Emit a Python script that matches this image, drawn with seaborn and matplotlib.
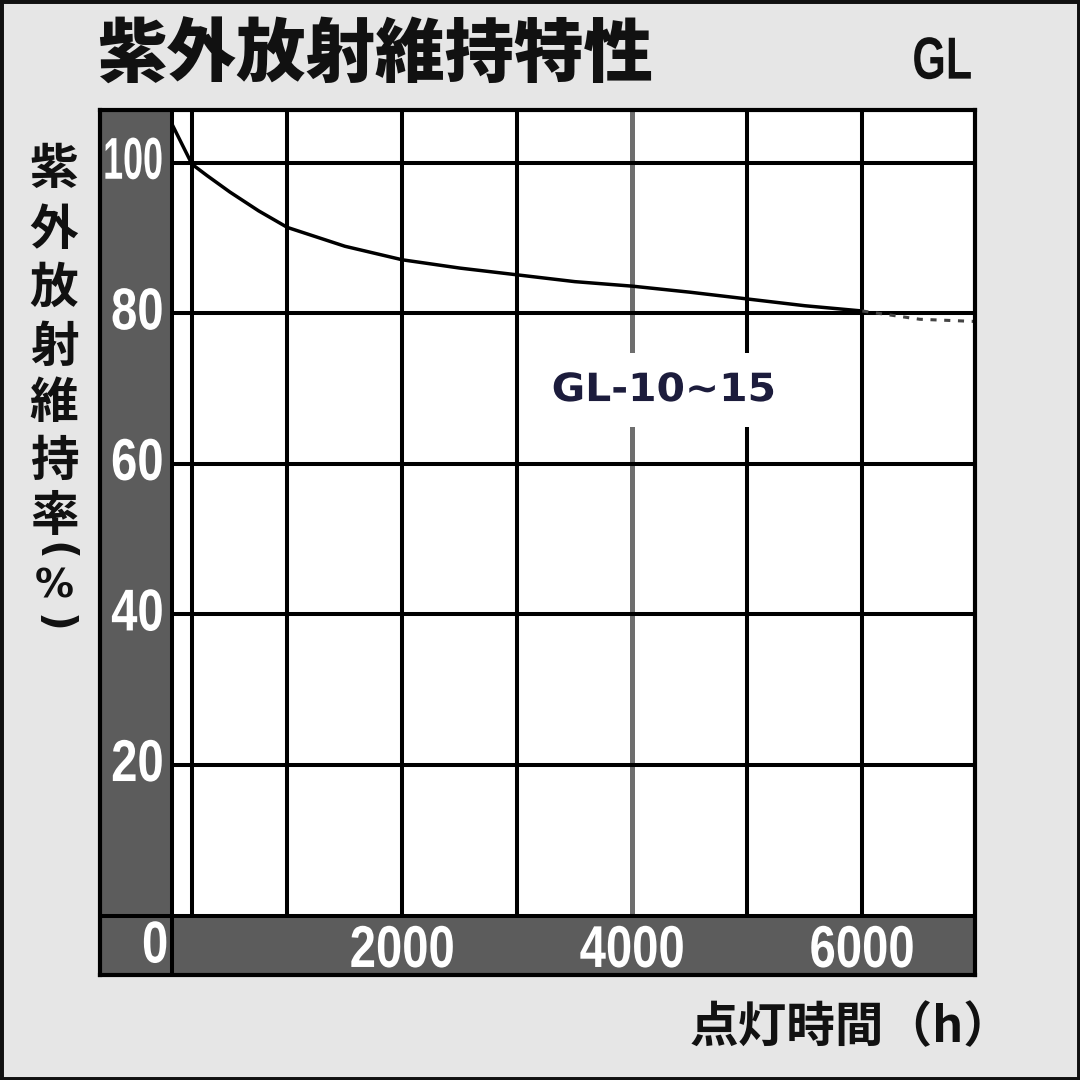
import matplotlib
matplotlib.use("Agg")
import matplotlib.pyplot as plt
from matplotlib import font_manager
from matplotlib.patches import Rectangle
from matplotlib.patheffects import AbstractPathEffect
from matplotlib.transforms import Affine2D
import seaborn as sns
import pandas as pd

# ---- data ----
hours_solid = [0, 170, 300, 500, 750, 1000, 1500, 2000, 2500, 3000, 3500, 4000, 4500, 5000, 5500, 6000]
ratio_solid = [105.0, 99.8, 98.3, 96.1, 93.6, 91.4, 88.9, 87.1, 86.0, 85.1, 84.2, 83.6, 82.8, 81.9, 81.0, 80.3]
hours_dash = [6000, 6500, 7000]
ratio_dash = [80.3, 79.2, 78.9]
x_grid = [170, 1000, 2000, 3000, 4000, 5000, 6000, 7000]
y_grid = [0, 20, 40, 60, 80, 100]
x_tick_labels = ["2000", "4000", "6000"]
x_tick_pos = [2000, 4000, 6000]
y_tick_labels = ["100", "80", "60", "40", "20"]
y_tick_pos = [100, 80, 60, 40, 20]
title = "紫外放射維持特性"
subtitle = "GL"
series_label = "GL-10~15"
ylabel_chars = ["紫", "外", "放", "射", "維", "持", "率", "(", "%", ")"]
xlabel = "点灯時間（h）"


class Scale(AbstractPathEffect):
    """Draw text scaled horizontally / vertically around an anchor."""
    def __init__(self, sx=1.0, sy=1.0, anchor="center"):
        super().__init__()
        self.sx = sx
        self.sy = sy
        self.anchor = anchor

    def draw_path(self, renderer, gc, tpath, affine, rgbFace=None):
        ext = tpath.get_extents()
        if self.anchor == "center":
            cx = (ext.x0 + ext.x1) / 2
        elif self.anchor == "right":
            cx = ext.x1
        else:
            cx = ext.x0
        cy = (ext.y0 + ext.y1) / 2
        t = (Affine2D().translate(-cx, -cy).scale(self.sx, self.sy)
             .translate(cx, cy) + affine)
        renderer.draw_path(gc, tpath, t, rgbFace)


sns.set_theme(style="white")
cjk = ["Noto Sans CJK JP", "DejaVu Sans"]
plt.rcParams["font.family"] = cjk

avail = {f.name for f in font_manager.fontManager.ttflist}
num_font = "DejaVu Sans"
for cand in ["Liberation Sans", "Arial"]:
    if cand in avail:
        num_font = cand
        break

BG = "#e6e6e6"
DARK = "#5c5c5c"

fig = plt.figure(figsize=(10.8, 10.8), dpi=100, facecolor=BG)
W = H = 1080.0


def fx(px):
    return px / W


def fy(py):
    return 1 - py / H


ax_l, ax_r, ax_t, ax_b = 100, 975, 110, 975
ax = fig.add_axes([fx(ax_l), fy(ax_b), (ax_r - ax_l) / W, (ax_b - ax_t) / H])
ax.set_facecolor("white")
XMIN, XMAX = -630, 6980
YMIN, YMAX = -7.9, 107.0
ax.set_xlim(XMIN, XMAX)
ax.set_ylim(YMIN, YMAX)

# dark strips
ax.axvspan(XMIN, 0, color=DARK, lw=0, zorder=1)
ax.axhspan(YMIN, 0, color=DARK, lw=0, zorder=1)

# grid
for xv in x_grid:
    col = "#6e6e6e" if xv == 4000 else "black"
    lw = 3.6 if xv == 4000 else 2.9
    ax.vlines(xv, 0, YMAX, color=col, lw=lw, zorder=2)
ax.vlines(0, YMIN, YMAX, color="black", lw=2.9, zorder=2)
for yv in y_grid:
    ax.hlines(yv, 0 if yv else XMIN, XMAX, color="black", lw=2.9, zorder=2)

# curve
df_solid = pd.DataFrame({"h": hours_solid, "r": ratio_solid})
df_dash = pd.DataFrame({"h": hours_dash, "r": ratio_dash})
sns.lineplot(data=df_solid, x="h", y="r", ax=ax, color="black", lw=2.5, zorder=4)
sns.lineplot(data=df_dash, x="h", y="r", ax=ax, color="#444444", lw=2.2,
             linestyle=(0, (2.0, 2.5)), zorder=4)

lab = ax.text(4274, 69.8, series_label, ha="center", va="center", fontsize=28,
              fontweight="bold", color="#1c1c3c", family=["DejaVu Sans"], zorder=5,
              bbox=dict(facecolor="white", edgecolor="none", pad=13))
lab.set_path_effects([Scale(1.05, 1.0, "center")])

# tick labels (white, tall)
TICK_FS = 34
TICK_SY = 1.25
for v, s in zip(y_tick_pos, y_tick_labels):
    sx = 0.76 if len(s) >= 3 else 1.0
    t = ax.text(-75, v, s, ha="right", va="center", fontsize=TICK_FS, color="white",
                family=num_font, fontweight="bold", zorder=5)
    t.set_path_effects([Scale(sx, TICK_SY, "right")])
for v, s in zip(x_tick_pos, x_tick_labels):
    t = ax.text(v, -4.7, s, ha="center", va="center", fontsize=TICK_FS, color="white",
                family=num_font, fontweight="bold", zorder=5)
    t.set_path_effects([Scale(1.0, TICK_SY, "center")])
t = ax.text(-150, -4.1, "0", ha="center", va="center", fontsize=TICK_FS, color="white",
            family=num_font, fontweight="bold", zorder=5)
t.set_path_effects([Scale(1.0, TICK_SY, "center")])

ax.set_xticks([])
ax.set_yticks([])
ax.set_xlabel("")
ax.set_ylabel("")
for sp in ax.spines.values():
    sp.set_visible(True)
    sp.set_color("black")
    sp.set_linewidth(3.0)
    sp.set_zorder(6)

# title & labels
fig.text(fx(97), fy(56), title, ha="left", va="center", fontsize=50,
         fontweight=900, color="#111111")
gl = fig.text(fx(972), fy(62), subtitle, ha="right", va="center", fontsize=31,
              fontweight="bold", color="#111111", family=[num_font])
gl.set_path_effects([Scale(1.0, 1.38, "right")])

ylabel_y = [170, 230, 288, 347, 404, 461, 516, 551, 587, 623]
for ch, py in zip(ylabel_chars, ylabel_y):
    if ch in "()":
        fig.text(fx(54), fy(py), ch, ha="center", va="center", fontsize=30,
                 fontweight="bold", color="#111111", rotation=-90,
                 family=["DejaVu Sans"])
    elif ch == "%":
        fig.text(fx(54), fy(py), ch, ha="center", va="center", fontsize=28,
                 fontweight="bold", color="#111111", family=["DejaVu Sans"])
    else:
        fig.text(fx(54), fy(py), ch, ha="center", va="center", fontsize=35,
                 fontweight="bold", color="#111111", family=cjk)

fig.text(fx(1012), fy(1028), xlabel, ha="right", va="center", fontsize=35,
         fontweight="bold", color="#111111")

# figure frame
fig.patches.append(Rectangle((0, 0), 1, 1, transform=fig.transFigure,
                             fill=False, edgecolor="#111111", lw=5))

fig.savefig("out.png", dpi=100, facecolor=BG)
